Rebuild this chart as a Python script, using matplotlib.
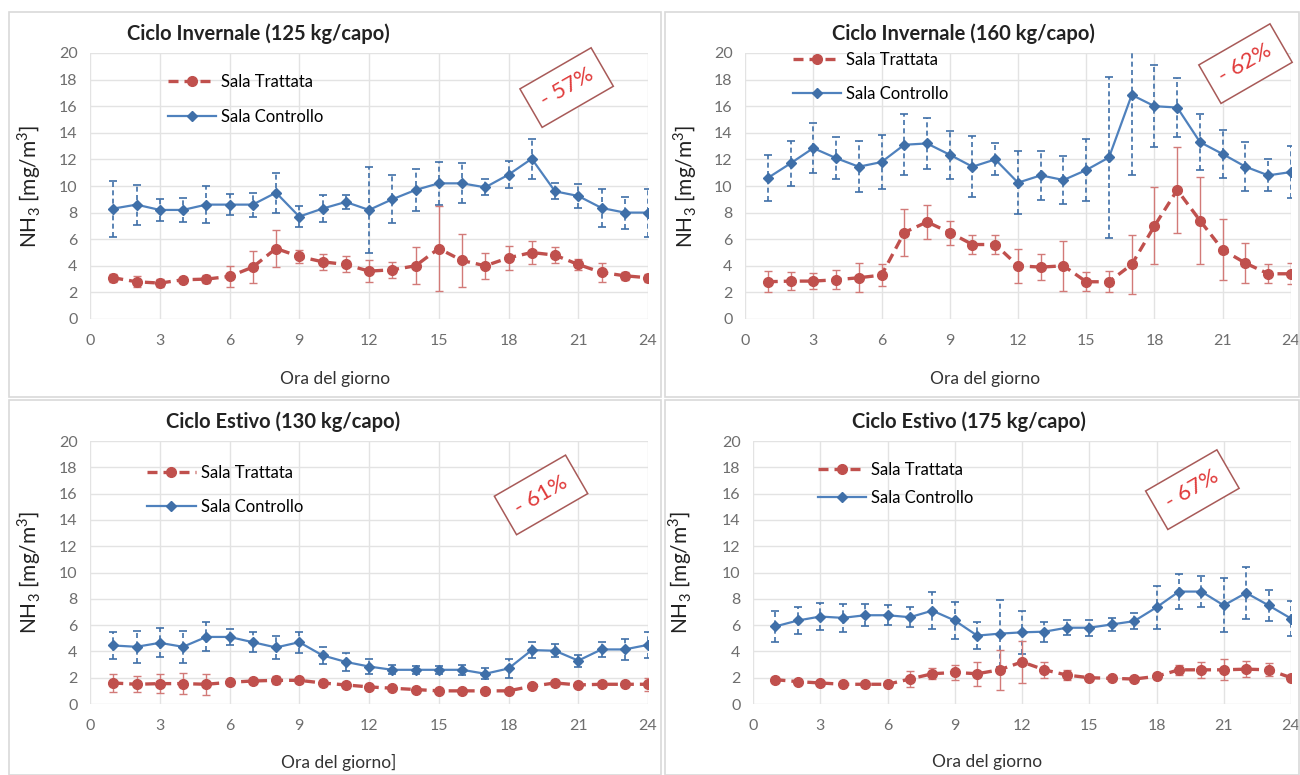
import matplotlib
matplotlib.use("Agg")
import matplotlib.pyplot as plt
from matplotlib.lines import Line2D
from matplotlib.patches import Rectangle

plt.rcParams['font.family'] = ['Lato', 'DejaVu Sans']

W, H = 1300, 775

ore = list(range(1, 25))

# Ciclo invernale 125 kg/capo
inv125_trattata = [3.1, 2.8, 2.7, 2.95, 3.0, 3.2, 3.9, 5.3, 4.7, 4.3, 4.1, 3.6,
                   3.7, 4.0, 5.3, 4.4, 4.0, 4.6, 5.0, 4.8, 4.1, 3.5, 3.25, 3.1]
inv125_trattata_err = [0.3, 0.4, 0.3, 0.2, 0.3, 0.8, 1.2, 1.4, 0.5, 0.6, 0.6, 0.8,
                       0.6, 1.4, 3.2, 2.0, 1.0, 0.9, 0.9, 0.6, 0.4, 0.7, 0.3, 0.3]
inv125_controllo = [8.3, 8.6, 8.2, 8.2, 8.6, 8.6, 8.6, 9.5, 7.7, 8.3, 8.8, 8.2,
                    9.0, 9.7, 10.2, 10.2, 9.9, 10.85, 12.05, 9.6, 9.25, 8.35, 8.0, 8.0]
inv125_controllo_err = [2.1, 1.5, 0.8, 0.9, 1.4, 0.8, 0.9, 1.5, 0.8, 1.0, 0.5, 3.2,
                        1.8, 1.6, 1.6, 1.5, 0.6, 1.0, 1.5, 0.6, 0.9, 1.4, 1.2, 1.8]

# Ciclo invernale 160 kg/capo
inv160_trattata = [2.8, 2.85, 2.85, 2.95, 3.1, 3.3, 6.5, 7.3, 6.5, 5.6, 5.6, 4.0,
                   3.9, 4.0, 2.8, 2.8, 4.1, 7.0, 9.7, 7.4, 5.2, 4.2, 3.4, 3.4]
inv160_trattata_err = [0.8, 0.7, 0.6, 0.7, 1.1, 0.8, 1.8, 1.3, 0.9, 0.7, 0.7, 1.3,
                       1.0, 1.9, 0.7, 0.8, 2.2, 2.9, 3.2, 3.3, 2.3, 1.5, 0.7, 0.8]
inv160_controllo = [10.6, 11.7, 12.85, 12.1, 11.45, 11.8, 13.1, 13.2, 12.35, 11.45, 12.0, 10.25,
                    10.8, 10.45, 11.2, 12.15, 16.85, 16.0, 15.9, 13.3, 12.4, 11.45, 10.8, 11.05]
inv160_controllo_err = [1.75, 1.7, 1.9, 1.6, 1.9, 2.0, 2.3, 1.9, 1.8, 2.3, 1.2, 2.35,
                        1.85, 1.8, 2.3, 6.05, 6.0, 3.1, 2.2, 2.1, 1.8, 1.85, 1.2, 1.95]

# Ciclo estivo 130 kg/capo
est130_trattata = [1.6, 1.5, 1.55, 1.55, 1.5, 1.65, 1.75, 1.8, 1.8, 1.6, 1.45, 1.3,
                   1.2, 1.1, 1.0, 1.0, 1.0, 1.0, 1.35, 1.6, 1.45, 1.5, 1.5, 1.5]
est130_trattata_err = [0.7, 0.6, 0.7, 0.8, 0.8, 0.2, 0.2, 0.3, 0.2, 0.2, 0.2, 0.15,
                       0.1, 0.1, 0.1, 0.1, 0.1, 0.1, 0.2, 0.2, 0.15, 0.15, 0.15, 0.5]
est130_controllo = [4.45, 4.35, 4.65, 4.35, 5.1, 5.1, 4.7, 4.3, 4.7, 3.7, 3.2, 2.85,
                    2.6, 2.6, 2.6, 2.6, 2.3, 2.7, 4.1, 4.05, 3.3, 4.15, 4.15, 4.5]
est130_controllo_err = [1.05, 1.2, 1.1, 1.2, 1.1, 0.6, 0.75, 0.9, 0.8, 0.65, 0.7, 0.55,
                        0.35, 0.3, 0.3, 0.4, 0.4, 0.7, 0.6, 0.5, 0.45, 0.6, 0.8, 1.0]

# Ciclo estivo 175 kg/capo
est175_trattata = [1.85, 1.7, 1.6, 1.5, 1.5, 1.5, 1.9, 2.3, 2.4, 2.3, 2.6, 3.2,
                   2.6, 2.2, 2.0, 1.95, 1.9, 2.1, 2.6, 2.6, 2.6, 2.65, 2.6, 2.0]
est175_trattata_err = [0.2, 0.15, 0.15, 0.1, 0.1, 0.2, 0.6, 0.4, 0.6, 0.9, 1.5, 1.6,
                       0.6, 0.4, 0.1, 0.1, 0.1, 0.2, 0.4, 0.6, 0.8, 0.6, 0.5, 0.1]
est175_controllo = [5.9, 6.35, 6.65, 6.55, 6.75, 6.75, 6.6, 7.1, 6.35, 5.2, 5.35, 5.45,
                    5.5, 5.8, 5.8, 6.05, 6.3, 7.35, 8.55, 8.55, 7.5, 8.45, 7.5, 6.5]
est175_controllo_err = [1.15, 1.05, 1.05, 1.05, 0.85, 0.75, 0.75, 1.4, 1.4, 1.0, 2.55, 1.65,
                        0.75, 0.55, 0.6, 0.5, 0.6, 1.65, 1.35, 1.2, 2.05, 2.0, 1.2, 1.3]

titoli = ["Ciclo Invernale (125 kg/capo)", "Ciclo Invernale (160 kg/capo)",
          "Ciclo Estivo (130 kg/capo)", "Ciclo Estivo (175 kg/capo)"]
riduzioni = ["- 57%", "- 62%", "- 61%", "- 67%"]
etichette_x = ["Ora del giorno", "Ora del giorno", "Ora del giorno]", "Ora del giorno"]

ROSSO = '#C0504D'
BLU = '#4F81BD'
BLU_SCURO = '#3F6FA8'

fig = plt.figure(figsize=(13, 7.75), dpi=100)


def px_rect(x0, x1, y0, y1):
    return [x0 / W, 1 - y1 / H, (x1 - x0) / W, (y1 - y0) / H]


def pannello(rect_ax, frame, title_xy, tratt, tratt_err, contr, contr_err,
             titolo, rid, rid_xy, leg_xy, leg_sp, xlab, ylab_x, xlab_xy):
    # cornice del grafico
    fx0, fx1, fy0, fy1 = frame
    fig.add_artist(Rectangle((fx0 / W, 1 - fy1 / H), (fx1 - fx0) / W, (fy1 - fy0) / H,
                             transform=fig.transFigure, fill=False, ec='#D9D9D9', lw=1.2))
    fig.text(title_xy[0] / W, 1 - title_xy[1] / H, titolo, ha='center', va='center',
             fontsize=14.5, fontweight='bold', color='#222222')

    ax = fig.add_axes(px_rect(*rect_ax))
    ax.set_xlim(0, 24)
    ax.set_ylim(0, 20)
    ax.set_xticks(range(0, 25, 3))
    ax.set_yticks(range(0, 21, 2))
    ax.grid(True, color='#E3E3E3', lw=1)
    ax.set_axisbelow(True)
    for s in ax.spines.values():
        s.set_visible(False)
    ax.tick_params(length=0, labelsize=11.5, labelcolor='#6E6E6E')
    ax.tick_params(axis='x', pad=11)
    ax.tick_params(axis='y', pad=9)

    # Sala Controllo
    _, caps, bars = ax.errorbar(ore, contr, yerr=contr_err, fmt='none', ecolor=BLU_SCURO,
                                elinewidth=1.2, capsize=3, capthick=1.2)
    bars[0].set_linestyle((0, (3, 2)))
    ax.plot(ore, contr, color=BLU, lw=1.6, marker='D', ms=5, mfc=BLU_SCURO, mec=BLU_SCURO)

    # Sala Trattata
    ax.errorbar(ore, tratt, yerr=tratt_err, fmt='none', ecolor='#D27A78',
                elinewidth=1.0, capsize=3, capthick=1.0)
    ax.plot(ore, tratt, color=ROSSO, lw=2.4, ls=(0, (3, 1.8)), marker='o', ms=7,
            mfc=ROSSO, mec=ROSSO)

    ax.set_ylabel('NH$_{\\mathregular{3}}$ [mg/m$^{\\mathregular{3}}$]', fontsize=15,
                  color='#222222')
    ax.yaxis.set_label_coords(ylab_x, 0.5)
    ax.set_xlabel(xlab, fontsize=12.5, color='#333333', va='center')
    ax.xaxis.set_label_coords(*xlab_xy)

    handles = [Line2D([], [], color=ROSSO, lw=2.4, ls=(0, (3, 1.8)), marker='o', ms=7),
               Line2D([], [], color=BLU, lw=1.6, marker='D', ms=5, mfc=BLU_SCURO, mec=BLU_SCURO)]
    ax.legend(handles, ['Sala Trattata', 'Sala Controllo'], loc='upper left',
              bbox_to_anchor=leg_xy, bbox_transform=ax.transData, frameon=False,
              fontsize=12, handlelength=2.9, handletextpad=0.3, labelspacing=leg_sp,
              borderpad=0, borderaxespad=0)

    ax.text(rid_xy[0], rid_xy[1], rid, rotation=30, ha='center', va='center',
            fontsize=16, color='#E03A3A', clip_on=False, rotation_mode='anchor',
            bbox=dict(boxstyle='square,pad=0.55', fc='white', ec='#A85A58', lw=1.1))
    return ax


pannello((90, 648, 53, 319), (9, 661, 12, 397), (258, 34),
         inv125_trattata, inv125_trattata_err, inv125_controllo, inv125_controllo_err,
         titoli[0], riduzioni[0], (20.5, 17.4), (3.35, 18.4), 1.1, etichette_x[0],
         -0.085, (0.44, -0.225))
pannello((745, 1291, 53, 319), (665, 1299, 12, 397), (963, 34),
         inv160_trattata, inv160_trattata_err, inv160_controllo, inv160_controllo_err,
         titoli[1], riduzioni[1], (22.0, 19.2), (2.1, 20.1), 1.1, etichette_x[1],
         -0.085, (0.44, -0.225))
pannello((90, 648, 441, 704), (9, 661, 400, 775), (283, 422),
         est130_trattata, est130_trattata_err, est130_controllo, est130_controllo_err,
         titoli[2], riduzioni[2], (19.4, 15.9), (2.46, 18.2), 1.1, etichette_x[2],
         -0.085, (0.445, -0.222))
pannello((753, 1291, 441, 704), (665, 1299, 400, 775), (969, 422),
         est175_trattata, est175_trattata_err, est175_controllo, est175_controllo_err,
         titoli[3], riduzioni[3], (19.6, 16.3), (2.9, 18.4), 0.7, etichette_x[3],
         -0.11, (0.435, -0.222))

fig.savefig('out.png', dpi=100, facecolor='white')
